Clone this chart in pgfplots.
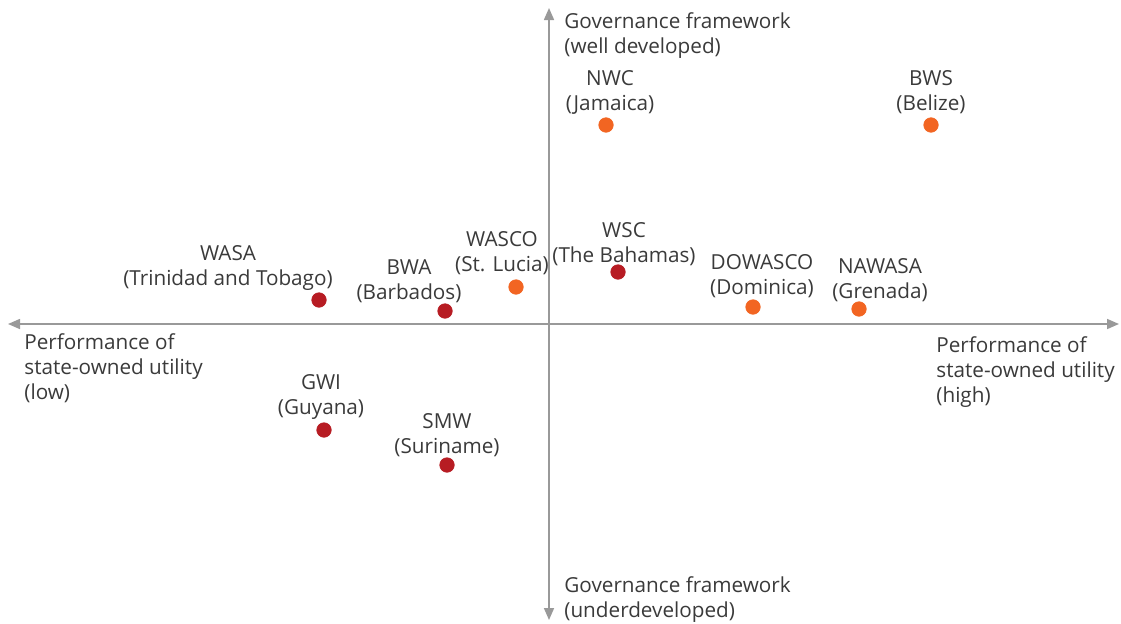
\documentclass[border=0pt]{standalone}
\usepackage{fontspec}
\setmainfont{Open Sans}
\usepackage{pgfplots}
\pgfplotsset{compat=1.18}
\usetikzlibrary{arrows.meta}
\definecolor{cRed}{HTML}{B71C23}
\definecolor{cOrg}{HTML}{F26522}
\definecolor{cAx}{HTML}{999999}
\definecolor{cInk}{HTML}{3A3A3A}
\tikzset{lbl/.style={font=\fontsize{10.35}{12.5}\selectfont, text=cInk, align=center, inner sep=0pt}}
\begin{document}
\begin{tikzpicture}
\begin{axis}[
  scale only axis, width=560.5pt, height=311.5pt,
  xmin=0, xmax=1121, ymin=0, ymax=623,
  hide axis, clip=false,
]
  % keep the full frame as the bounding box
  \path (axis cs:0,0) rectangle (axis cs:1121,623);
  % quadrant axes (pixel-like coordinates, y flipped)
  \draw[cAx, line width=0.8pt, {Triangle[length=6pt,width=5pt]}-{Triangle[length=6pt,width=5pt]}]
    (axis cs:8,299) -- (axis cs:1119,299);
  \draw[cAx, line width=0.8pt, {Triangle[length=6pt,width=5pt]}-{Triangle[length=6pt,width=5pt]}]
    (axis cs:549,3) -- (axis cs:549,615);

  % red utilities
  \addplot[only marks, mark=*, mark size=3.6pt, color=cRed] coordinates {
    (618,351) (319,323) (445,312) (324,193) (447,158)
  };
  % orange utilities
  \addplot[only marks, mark=*, mark size=3.6pt, color=cOrg] coordinates {
    (606,498) (931,498) (516,336) (753,316) (859,314)
  };

  \node[lbl] at (axis cs:610,531) {NWC\\(Jamaica)};
  \node[lbl] at (axis cs:931,531) {BWS\\(Belize)};
  \node[lbl] at (axis cs:624,379) {WSC\\(The Bahamas)};
  \node[lbl] at (axis cs:502,370) {WASCO\\(St. Lucia)};
  \node[lbl] at (axis cs:409,342) {BWA\\(Barbados)};
  \node[lbl] at (axis cs:228,355) {WASA\\(Trinidad and Tobago)};
  \node[lbl] at (axis cs:762,347) {DOWASCO\\(Dominica)};
  \node[lbl] at (axis cs:880,343) {NAWASA\\(Grenada)};
  \node[lbl] at (axis cs:321,226) {GWI\\(Guyana)};
  \node[lbl] at (axis cs:447,188) {SMW\\(Suriname)};

  \node[lbl, align=left, anchor=west] at (axis cs:564,587) {Governance framework\\(well developed)};
  \node[lbl, align=left, anchor=west] at (axis cs:564,23) {Governance framework\\(underdeveloped)};
  \node[lbl, align=left, anchor=west] at (axis cs:24,255) {Performance of\\state-owned utility\\(low)};
  \node[lbl, align=left, anchor=west] at (axis cs:936,251) {Performance of\\state-owned utility\\(high)};
\end{axis}
\end{tikzpicture}
\end{document}
